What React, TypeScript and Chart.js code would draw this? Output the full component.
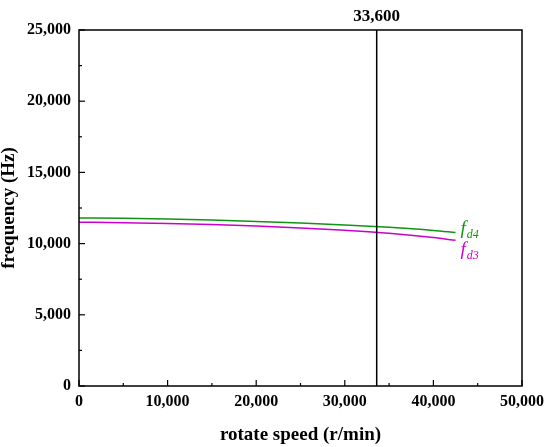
import React, { useEffect, useRef } from "react";
import { Chart, registerables } from "chart.js";

Chart.register(...registerables);

const speeds = [0, 5000, 10000, 15000, 20000, 25000, 30000, 35000, 40000, 42500];
const fd4 = [11800, 11780, 11730, 11660, 11560, 11450, 11310, 11140, 10920, 10780];
const fd3 = [11500, 11470, 11420, 11340, 11230, 11100, 10930, 10720, 10420, 10230];
const markerSpeed = 33600;
const markerLabel = "33,600";
const xTicks = [0, 10000, 20000, 30000, 40000, 50000];
const yTicks = [0, 5000, 10000, 15000, 20000, 25000];

const GREEN = "#129412";
const MAGENTA = "#cc00cc";
const SERIF = "'Liberation Serif', 'Times New Roman', serif";

const fmt = (v: number) => v.toLocaleString("en-US");

const decorPlugin = {
  id: "decor",
  afterDatasetsDraw(chart: any) {
    const { ctx, chartArea: a, scales } = chart;
    const xs = scales.x;
    const ys = scales.y;
    ctx.save();
    // frame
    ctx.strokeStyle = "#000";
    ctx.lineWidth = 1.5;
    ctx.strokeRect(a.left, a.top, a.right - a.left, a.bottom - a.top);
    // inward ticks
    ctx.lineWidth = 1.2;
    for (let v = 0; v <= 50000; v += 5000) {
      const px = xs.getPixelForValue(v);
      const len = v % 10000 === 0 ? 6 : 3;
      ctx.beginPath();
      ctx.moveTo(px, a.bottom);
      ctx.lineTo(px, a.bottom - len);
      ctx.stroke();
    }
    for (let v = 0; v <= 25000; v += 2500) {
      const py = ys.getPixelForValue(v);
      const len = v % 5000 === 0 ? 6 : 3;
      ctx.beginPath();
      ctx.moveTo(a.left, py);
      ctx.lineTo(a.left + len, py);
      ctx.stroke();
    }
    // marker line
    const mx = xs.getPixelForValue(markerSpeed);
    ctx.lineWidth = 1.5;
    ctx.beginPath();
    ctx.moveTo(mx, a.top);
    ctx.lineTo(mx, a.bottom);
    ctx.stroke();
    ctx.fillStyle = "#000";
    ctx.font = `bold 17px ${SERIF}`;
    ctx.textAlign = "center";
    ctx.textBaseline = "alphabetic";
    ctx.fillText(markerLabel, mx, a.top - 9);
    // series labels
    const drawLabel = (data: number[], color: string, sub: string, dy: number) => {
      const lx = xs.getPixelForValue(speeds[speeds.length - 1]) + 5;
      const ly = ys.getPixelForValue(data[data.length - 1]) + dy;
      ctx.fillStyle = color;
      ctx.textAlign = "left";
      ctx.font = `italic 19px ${SERIF}`;
      ctx.fillText("f", lx, ly);
      const fw = ctx.measureText("f").width;
      ctx.font = `italic 12px ${SERIF}`;
      ctx.fillText(sub, lx + fw + 1, ly + 4);
    };
    drawLabel(fd4, GREEN, "d4", 2);
    drawLabel(fd3, MAGENTA, "d3", 15);
    ctx.restore();
  },
};

export default function App() {
  const ref = useRef<HTMLCanvasElement>(null);
  useEffect(() => {
    if (!ref.current) return;
    const chart = new Chart(ref.current, {
      type: "line",
      data: {
        datasets: [
          {
            label: "fd4",
            data: speeds.map((s, i) => ({ x: s, y: fd4[i] })),
            borderColor: GREEN,
            borderWidth: 1.5,
            pointRadius: 0,
            cubicInterpolationMode: "monotone",
          },
          {
            label: "fd3",
            data: speeds.map((s, i) => ({ x: s, y: fd3[i] })),
            borderColor: MAGENTA,
            borderWidth: 1.5,
            pointRadius: 0,
            cubicInterpolationMode: "monotone",
          },
        ],
      },
      options: {
        animation: false,
        responsive: false,
        maintainAspectRatio: false,
        layout: { padding: { top: 30, right: 21, left: 0, bottom: 1 } },
        plugins: { legend: { display: false }, tooltip: { enabled: false } },
        scales: {
          x: {
            type: "linear",
            min: 0,
            max: 50000,
            afterBuildTicks: (s: any) => {
              s.ticks = xTicks.map((v) => ({ value: v }));
            },
            ticks: {
              callback: (v: any) => fmt(Number(v)),
              color: "#000",
              font: { family: SERIF, size: 16, weight: "bold" },
              padding: 6,
              maxRotation: 0,
            },
            grid: { display: false, drawTicks: false },
            border: { display: false },
            title: {
              display: true,
              text: "rotate speed (r/min)",
              color: "#000",
              font: { family: SERIF, size: 19, weight: "bold" },
              padding: { top: 6, bottom: 0 },
            },
          },
          y: {
            type: "linear",
            min: 0,
            max: 25000,
            afterBuildTicks: (s: any) => {
              s.ticks = yTicks.map((v) => ({ value: v }));
            },
            ticks: {
              callback: (v: any) => fmt(Number(v)),
              color: "#000",
              font: { family: SERIF, size: 16, weight: "bold" },
              padding: 8,
            },
            grid: { display: false, drawTicks: false },
            border: { display: false },
            title: {
              display: true,
              text: "frequency (Hz)",
              color: "#000",
              font: { family: SERIF, size: 19, weight: "bold", lineHeight: 1 },
              padding: { top: 0, bottom: 0 },
            },
          },
        },
      },
      plugins: [decorPlugin],
    } as any);
    return () => chart.destroy();
  }, []);
  return (
    <div style={{ position: "absolute", left: 0, top: 0, width: 550, height: 447, background: "#fff" }}>
      <canvas ref={ref} width={550} height={447} style={{ width: 550, height: 447 }} />
    </div>
  );
}
